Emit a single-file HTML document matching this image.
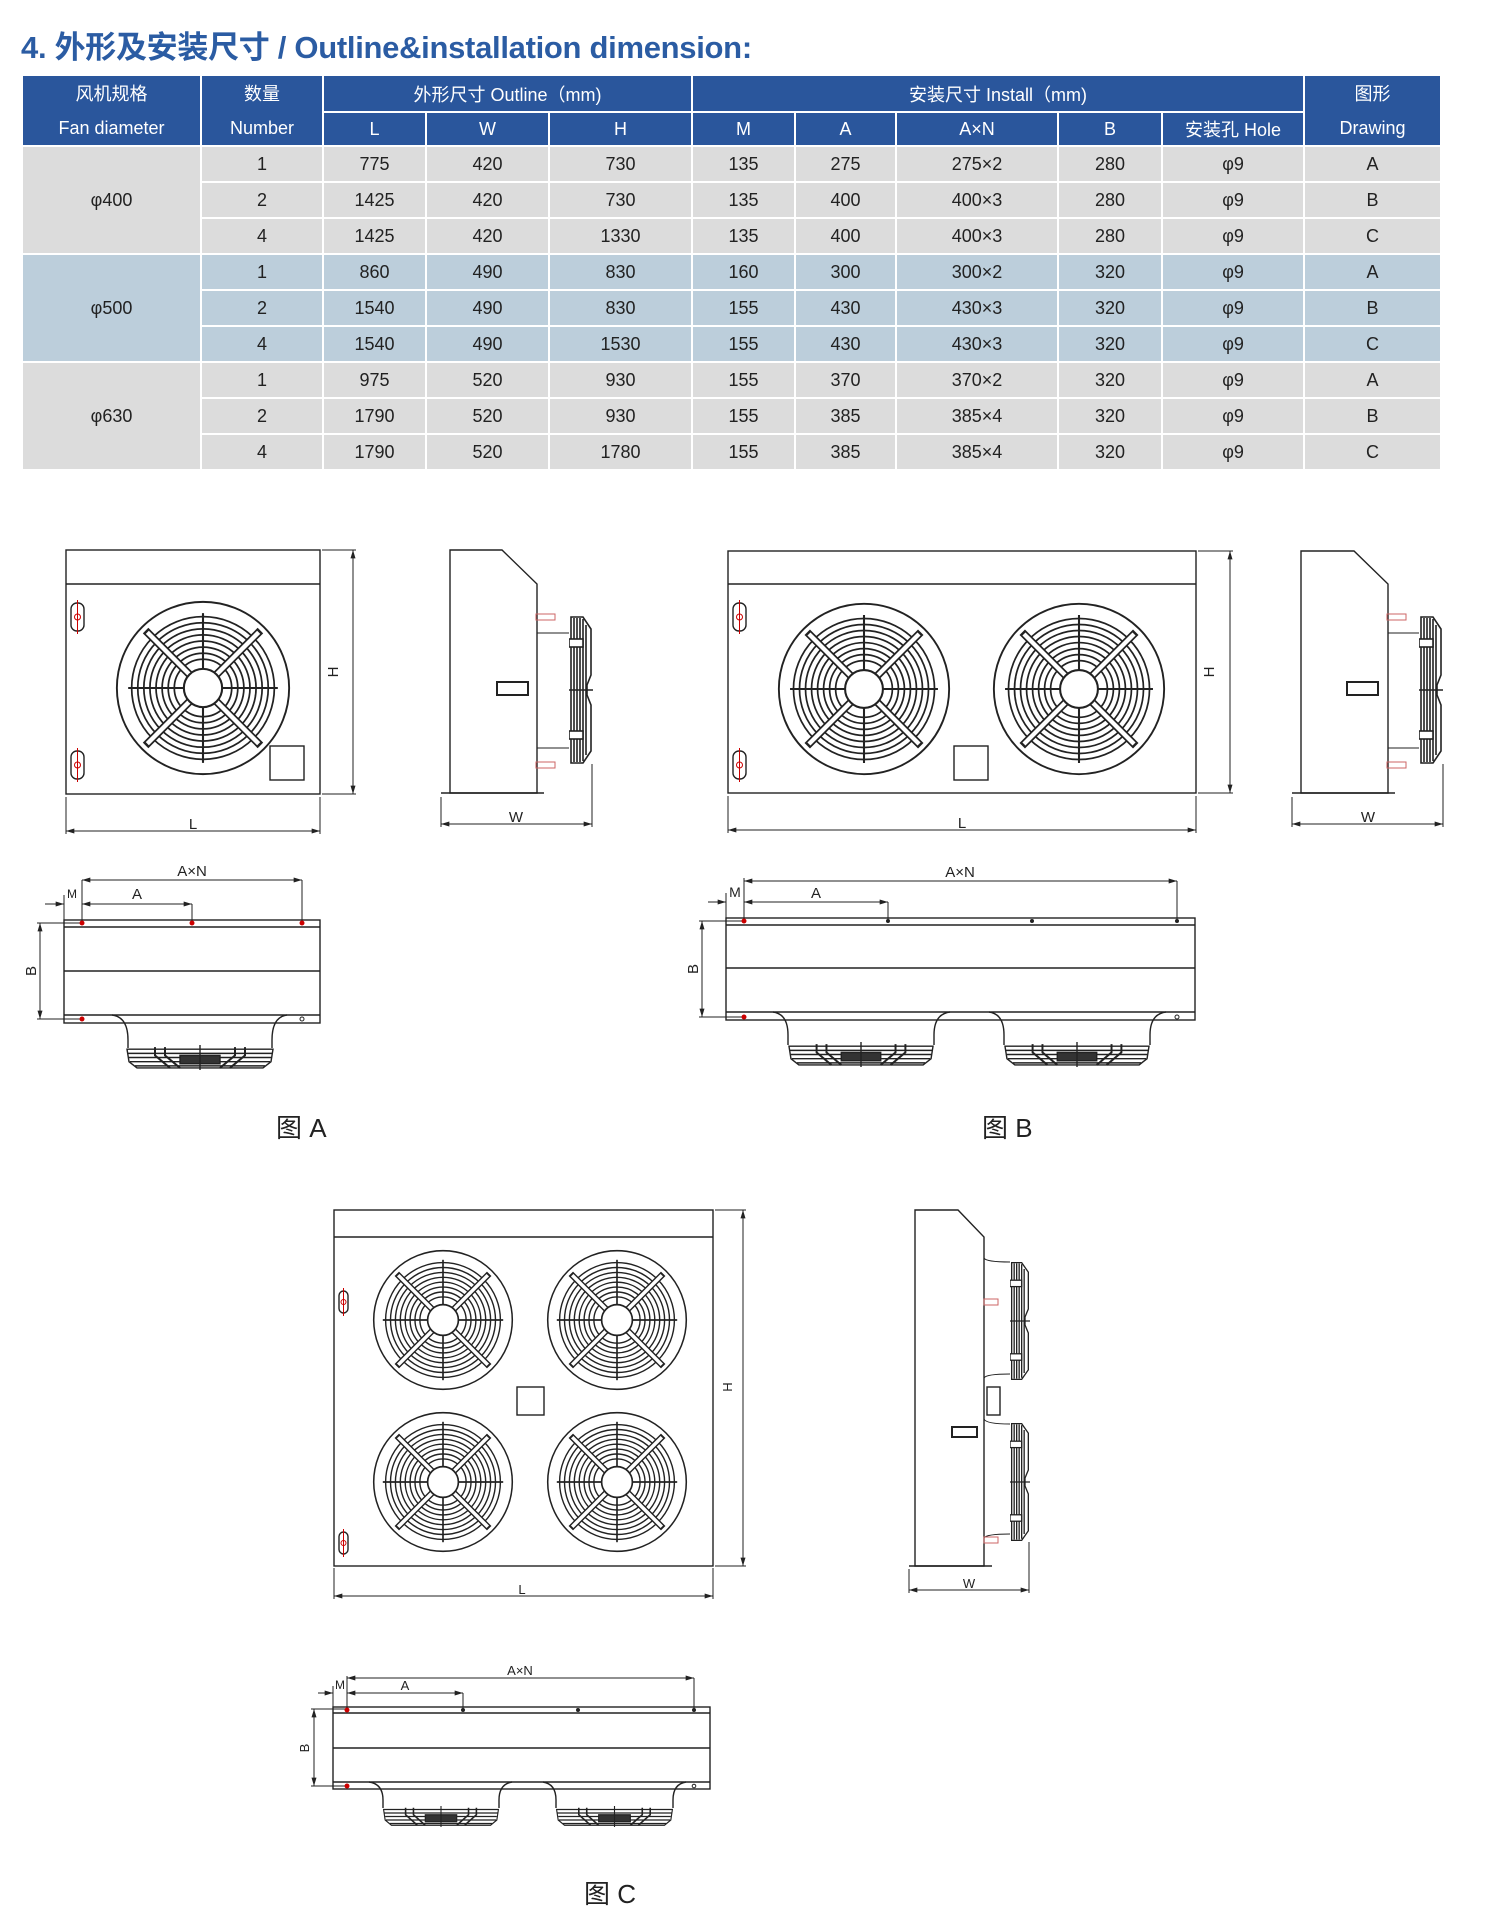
<!DOCTYPE html>
<html><head><meta charset="utf-8"><style>
body{margin:0;background:#fff;width:1487px;height:1931px;position:relative;overflow:hidden;font-family:"Liberation Sans","Noto Sans CJK SC",sans-serif}
h1{position:absolute;left:21px;top:22px;margin:0;font-size:31px;font-weight:bold;color:#2b5ca3;letter-spacing:-0.3px;white-space:nowrap}
table{position:absolute;left:21px;top:74px;border-collapse:collapse;table-layout:fixed;width:1419px;font-size:18px;color:#222}
td{border:2px solid #fff;text-align:center;padding:0;height:34px}
tr.h td{background:#2a569c;color:#fff}
tr.h1 td{height:35px}
tr.h2 td{height:32px}
.g td{background:#dcdcdc}.b td{background:#bccedb}
svg{position:absolute;left:0;top:0}
</style></head><body>
<h1>4. 外形及安装尺寸 / Outline&amp;installation dimension:</h1>
<table>
<colgroup><col style="width:179px"><col style="width:122px"><col style="width:103px"><col style="width:123px"><col style="width:143px"><col style="width:103px"><col style="width:101px"><col style="width:162px"><col style="width:104px"><col style="width:142px"><col style="width:137px"></colgroup>
<tr class="h h1"><td rowspan="2" style="line-height:34px">风机规格<br>Fan diameter</td><td rowspan="2" style="line-height:34px">数量<br>Number</td><td colspan="3">外形尺寸 Outline（mm)</td><td colspan="5">安装尺寸 Install（mm)</td><td rowspan="2" style="line-height:34px">图形<br>Drawing</td></tr>
<tr class="h h2"><td>L</td><td>W</td><td>H</td><td>M</td><td>A</td><td>A×N</td><td>B</td><td>安装孔 Hole</td></tr>
<tr class="g"><td rowspan="3">φ400</td><td>1</td><td>775</td><td>420</td><td>730</td><td>135</td><td>275</td><td>275×2</td><td>280</td><td>φ9</td><td>A</td></tr>
<tr class="g"><td>2</td><td>1425</td><td>420</td><td>730</td><td>135</td><td>400</td><td>400×3</td><td>280</td><td>φ9</td><td>B</td></tr>
<tr class="g"><td>4</td><td>1425</td><td>420</td><td>1330</td><td>135</td><td>400</td><td>400×3</td><td>280</td><td>φ9</td><td>C</td></tr>
<tr class="b"><td rowspan="3">φ500</td><td>1</td><td>860</td><td>490</td><td>830</td><td>160</td><td>300</td><td>300×2</td><td>320</td><td>φ9</td><td>A</td></tr>
<tr class="b"><td>2</td><td>1540</td><td>490</td><td>830</td><td>155</td><td>430</td><td>430×3</td><td>320</td><td>φ9</td><td>B</td></tr>
<tr class="b"><td>4</td><td>1540</td><td>490</td><td>1530</td><td>155</td><td>430</td><td>430×3</td><td>320</td><td>φ9</td><td>C</td></tr>
<tr class="g"><td rowspan="3">φ630</td><td>1</td><td>975</td><td>520</td><td>930</td><td>155</td><td>370</td><td>370×2</td><td>320</td><td>φ9</td><td>A</td></tr>
<tr class="g"><td>2</td><td>1790</td><td>520</td><td>930</td><td>155</td><td>385</td><td>385×4</td><td>320</td><td>φ9</td><td>B</td></tr>
<tr class="g"><td>4</td><td>1790</td><td>520</td><td>1780</td><td>155</td><td>385</td><td>385×4</td><td>320</td><td>φ9</td><td>C</td></tr>
</table>

<svg width="1487" height="1931" viewBox="0 0 1487 1931" font-family="Liberation Sans, sans-serif" fill="none" stroke="#222" stroke-width="1.4">
<defs>
<marker id="ar" viewBox="0 0 10 6" refX="10" refY="3" markerWidth="9" markerHeight="5" orient="auto-start-reverse"><path d="M0,0 L10,3 L0,6z" fill="#222" stroke="none"/></marker>
<symbol id="fan" viewBox="-100 -100 200 200" overflow="visible">
<g fill="none" stroke="#222">
<circle r="99" stroke-width="2.2"/>
<g stroke-width="2"><circle r="82"/><circle r="75"/><circle r="68"/><circle r="61"/><circle r="54"/><circle r="47"/><circle r="40"/><circle r="33"/></g>
<g stroke-width="2.4"><line x1="-86" y1="0" x2="86" y2="0"/><line x1="0" y1="-86" x2="0" y2="86"/></g>
<g stroke-width="9" stroke="#222"><line x1="-66" y1="-66" x2="66" y2="66"/><line x1="-66" y1="66" x2="66" y2="-66"/></g>
<g stroke-width="5" stroke="#fff"><line x1="-64" y1="-64" x2="64" y2="64"/><line x1="-64" y1="64" x2="64" y2="-64"/></g>
<circle r="22" fill="#fff" stroke-width="2.4"/>
</g></symbol>
<symbol id="sg" viewBox="0 0 24 150" preserveAspectRatio="none">
<g stroke="#222" fill="none" stroke-width="1.6">
<path d="M2,2 L14,2 L22,14 L22,60 L18,70 L18,80 L22,90 L22,136 L14,148 L2,148 Z" fill="#fff"/>
<line x1="5" y1="3" x2="5" y2="147"/><line x1="8" y1="3" x2="8" y2="147"/><line x1="11" y1="3" x2="11" y2="147"/><line x1="14" y1="4" x2="14" y2="146"/><line x1="17" y1="10" x2="17" y2="140"/>
<rect x="0" y="24" width="14" height="8" fill="#fff"/><rect x="0" y="116" width="14" height="8" fill="#fff"/>
<line x1="-4" y1="75" x2="28" y2="75"/>
</g></symbol>
<symbol id="bg" viewBox="0 0 150 24" preserveAspectRatio="none">
<g stroke="#222" fill="none" stroke-width="1.4">
<path d="M2,4 L148,4 L146,16 L138,22 L12,22 L4,16 Z" fill="#fff"/>
<line x1="3" y1="8" x2="147" y2="8"/><line x1="4" y1="12" x2="146" y2="12"/><line x1="5" y1="16" x2="145" y2="16"/><line x1="10" y1="20" x2="140" y2="20"/>
<path d="M30,2 L30,10 L45,22 M40,2 L40,10 L55,22 M110,2 L110,10 L95,22 M120,2 L120,10 L105,22" stroke-width="2"/>
<rect x="55" y="10" width="40" height="8" fill="#333"/>
<line x1="75" y1="0" x2="75" y2="26"/>
</g></symbol>
</defs>

<!-- ===== Figure A front ===== -->
<rect x="66" y="550" width="254" height="244"/>
<line x1="66" y1="584" x2="320" y2="584"/>
<use href="#fan" x="116" y="601" width="174" height="174"/>
<rect x="270" y="746" width="34" height="34"/>
<rect x="71" y="603" width="13" height="28" rx="6"/><rect x="71" y="751" width="13" height="28" rx="6"/>
<g stroke="#c00" stroke-width="1"><circle cx="77.5" cy="617" r="3"/><line x1="77.5" y1="600" x2="77.5" y2="634"/><circle cx="77.5" cy="765" r="3"/><line x1="77.5" y1="748" x2="77.5" y2="782"/></g>
<line x1="322" y1="550" x2="356" y2="550" stroke-width="1"/><line x1="322" y1="794" x2="356" y2="794" stroke-width="1"/>
<line x1="353" y1="550" x2="353" y2="794" stroke-width="1" marker-start="url(#ar)" marker-end="url(#ar)"/>
<line x1="66" y1="797" x2="66" y2="834" stroke-width="1"/><line x1="320" y1="797" x2="320" y2="834" stroke-width="1"/>
<line x1="66" y1="831" x2="320" y2="831" stroke-width="1" marker-start="url(#ar)" marker-end="url(#ar)"/>
<!-- side A -->
<path d="M450,550 L502,550 L537,584 L537,793 L450,793 Z"/>
<line x1="441" y1="793" x2="544" y2="793"/>
<path d="M537,633 L569,633 M537,748 L569,748" stroke-width="1"/>
<rect x="536" y="614" width="19" height="6" stroke="#c66" stroke-width="1"/><rect x="536" y="762" width="19" height="6" stroke="#c66" stroke-width="1"/>
<use href="#sg" x="569" y="615" width="24" height="150"/>
<rect x="497" y="682" width="31" height="13" stroke-width="2"/>
<line x1="441" y1="797" x2="441" y2="827" stroke-width="1"/><line x1="592" y1="764" x2="592" y2="827" stroke-width="1"/>
<line x1="441" y1="824" x2="592" y2="824" stroke-width="1" marker-start="url(#ar)" marker-end="url(#ar)"/>
<!-- bottom A -->
<rect x="64" y="920" width="256" height="103"/>
<path d="M64,927 H320 M64,971 H320 M64,1015 H320"/>
<path d="M112,1015 Q128,1017 128,1040 L128,1048 M287,1015 Q272,1017 272,1040 L272,1048"/>
<use href="#bg" x="125" y="1045" width="150" height="25"/>
<g stroke-width="1">
<line x1="82" y1="880" x2="302" y2="880" marker-start="url(#ar)" marker-end="url(#ar)"/>
<line x1="82" y1="880" x2="82" y2="922"/><line x1="302" y1="880" x2="302" y2="922"/>
<line x1="82" y1="904" x2="192" y2="904" marker-start="url(#ar)" marker-end="url(#ar)"/><line x1="192" y1="904" x2="192" y2="922"/>
<line x1="45" y1="904" x2="64" y2="904" marker-end="url(#ar)"/><line x1="64" y1="895" x2="64" y2="920"/>
<line x1="37" y1="923" x2="82" y2="923"/><line x1="37" y1="1019" x2="82" y2="1019"/>
<line x1="40" y1="923" x2="40" y2="1019" marker-start="url(#ar)" marker-end="url(#ar)"/>
</g>
<g fill="#c00" stroke="none"><circle cx="82" cy="923" r="2.5"/><circle cx="192" cy="923" r="2.5"/><circle cx="302" cy="923" r="2.5"/><circle cx="82" cy="1019" r="2.5"/></g>
<circle cx="302" cy="1019" r="2" stroke-width="1"/>

<!-- ===== Figure B front ===== -->
<rect x="728" y="551" width="468" height="242"/>
<line x1="728" y1="584" x2="1196" y2="584"/>
<use href="#fan" x="778" y="603" width="172" height="172"/>
<use href="#fan" x="993" y="603" width="172" height="172"/>
<rect x="954" y="746" width="34" height="34"/>
<rect x="733" y="603" width="13" height="28" rx="6"/><rect x="733" y="751" width="13" height="28" rx="6"/>
<g stroke="#c00" stroke-width="1"><circle cx="739.5" cy="617" r="3"/><line x1="739.5" y1="600" x2="739.5" y2="634"/><circle cx="739.5" cy="765" r="3"/><line x1="739.5" y1="748" x2="739.5" y2="782"/></g>
<g stroke-width="1">
<line x1="1198" y1="551" x2="1233" y2="551"/><line x1="1198" y1="793" x2="1233" y2="793"/>
<line x1="1230" y1="551" x2="1230" y2="793" marker-start="url(#ar)" marker-end="url(#ar)"/>
<line x1="728" y1="796" x2="728" y2="833"/><line x1="1196" y1="796" x2="1196" y2="833"/>
<line x1="728" y1="830" x2="1196" y2="830" marker-start="url(#ar)" marker-end="url(#ar)"/>
</g>
<!-- side B -->
<path d="M1301,551 L1354,551 L1388,584 L1388,793 L1301,793 Z"/>
<line x1="1292" y1="793" x2="1395" y2="793"/>
<path d="M1388,633 L1419,633 M1388,748 L1419,748" stroke-width="1"/>
<rect x="1387" y="614" width="19" height="6" stroke="#c66" stroke-width="1"/><rect x="1387" y="762" width="19" height="6" stroke="#c66" stroke-width="1"/>
<use href="#sg" x="1419" y="615" width="24" height="150"/>
<rect x="1347" y="682" width="31" height="13" stroke-width="2"/>
<g stroke-width="1">
<line x1="1292" y1="797" x2="1292" y2="827"/><line x1="1443" y1="764" x2="1443" y2="827"/>
<line x1="1292" y1="824" x2="1443" y2="824" marker-start="url(#ar)" marker-end="url(#ar)"/>
</g>
<!-- bottom B -->
<rect x="726" y="918" width="469" height="102"/>
<path d="M726,925 H1195 M726,968 H1195 M726,1012 H1195"/>
<path d="M773,1012 Q788,1014 788,1035 L788,1045 M950,1012 Q934,1014 934,1035 L934,1045 M989,1012 Q1004,1014 1004,1035 L1004,1045 M1166,1012 Q1150,1014 1150,1035 L1150,1045"/>
<use href="#bg" x="787" y="1042" width="148" height="25"/>
<use href="#bg" x="1003" y="1042" width="148" height="25"/>
<g stroke-width="1">
<line x1="744" y1="881" x2="1177" y2="881" marker-start="url(#ar)" marker-end="url(#ar)"/>
<line x1="744" y1="878" x2="744" y2="920"/><line x1="1177" y1="881" x2="1177" y2="920"/>
<line x1="744" y1="902" x2="888" y2="902" marker-start="url(#ar)" marker-end="url(#ar)"/><line x1="888" y1="902" x2="888" y2="920"/>
<line x1="708" y1="902" x2="726" y2="902" marker-end="url(#ar)"/><line x1="726" y1="893" x2="726" y2="918"/>
<line x1="699" y1="921" x2="744" y2="921"/><line x1="699" y1="1017" x2="744" y2="1017"/>
<line x1="702" y1="921" x2="702" y2="1017" marker-start="url(#ar)" marker-end="url(#ar)"/>
</g>
<g fill="#222" stroke="none"><circle cx="888" cy="921" r="2"/><circle cx="1032" cy="921" r="2"/><circle cx="1177" cy="921" r="2"/></g>
<g fill="#c00" stroke="none"><circle cx="744" cy="921" r="2.5"/><circle cx="744" cy="1017" r="2.5"/></g>
<circle cx="1177" cy="1017" r="2" stroke-width="1"/>

<!-- ===== Figure C front ===== -->
<rect x="334" y="1210" width="379" height="356"/>
<line x1="334" y1="1237" x2="713" y2="1237"/>
<use href="#fan" x="373" y="1250" width="140" height="140"/>
<use href="#fan" x="547" y="1250" width="140" height="140"/>
<use href="#fan" x="373" y="1412" width="140" height="140"/>
<use href="#fan" x="547" y="1412" width="140" height="140"/>
<rect x="517" y="1387" width="27" height="28"/>
<rect x="339" y="1291" width="9" height="22" rx="4.5"/><rect x="339" y="1532" width="9" height="22" rx="4.5"/>
<g stroke="#c00" stroke-width="1"><circle cx="343.5" cy="1302" r="2.5"/><line x1="343.5" y1="1288" x2="343.5" y2="1316"/><circle cx="343.5" cy="1543" r="2.5"/><line x1="343.5" y1="1529" x2="343.5" y2="1557"/></g>
<g stroke-width="1">
<line x1="715" y1="1210" x2="746" y2="1210"/><line x1="715" y1="1566" x2="746" y2="1566"/>
<line x1="743" y1="1210" x2="743" y2="1566" marker-start="url(#ar)" marker-end="url(#ar)"/>
<line x1="334" y1="1568" x2="334" y2="1599"/><line x1="713" y1="1568" x2="713" y2="1599"/>
<line x1="334" y1="1596" x2="713" y2="1596" marker-start="url(#ar)" marker-end="url(#ar)"/>
</g>
<!-- side C -->
<path d="M915,1210 L958,1210 L984,1237 L984,1566 L915,1566 Z"/>
<line x1="909" y1="1566" x2="992" y2="1566"/>
<path d="M984,1258 Q986,1262 1010,1262 M984,1378 Q986,1374 1010,1374 M984,1419 Q986,1424 1010,1424 M984,1538 Q986,1534 1010,1534" stroke-width="1"/>
<rect x="984" y="1299" width="14" height="6" stroke="#c66" stroke-width="1"/><rect x="984" y="1537" width="14" height="6" stroke="#c66" stroke-width="1"/>
<use href="#sg" x="1010" y="1261" width="20" height="120"/>
<use href="#sg" x="1010" y="1422" width="20" height="120"/>
<rect x="987" y="1387" width="13" height="28"/>
<rect x="952" y="1427" width="25" height="10" stroke-width="2"/>
<g stroke-width="1">
<line x1="909" y1="1569" x2="909" y2="1593"/><line x1="1029" y1="1542" x2="1029" y2="1593"/>
<line x1="909" y1="1590" x2="1029" y2="1590" marker-start="url(#ar)" marker-end="url(#ar)"/>
</g>
<!-- bottom C -->
<rect x="333" y="1707" width="377" height="82"/>
<path d="M333,1713 H710 M333,1748 H710 M333,1782 H710"/>
<path d="M369,1782 Q383,1784 383,1800 L383,1808 M512,1782 Q499,1784 499,1800 L499,1808 M543,1782 Q556,1784 556,1800 L556,1808 M686,1782 Q673,1784 673,1800 L673,1808"/>
<use href="#bg" x="382" y="1806" width="118" height="21"/>
<use href="#bg" x="555" y="1806" width="119" height="21"/>
<g stroke-width="1">
<line x1="347" y1="1678" x2="694" y2="1678" marker-start="url(#ar)" marker-end="url(#ar)"/>
<line x1="347" y1="1676" x2="347" y2="1709"/><line x1="694" y1="1678" x2="694" y2="1709"/>
<line x1="347" y1="1693" x2="463" y2="1693" marker-start="url(#ar)" marker-end="url(#ar)"/><line x1="463" y1="1693" x2="463" y2="1709"/>
<line x1="318" y1="1693" x2="333" y2="1693" marker-end="url(#ar)"/><line x1="333" y1="1686" x2="333" y2="1707"/>
<line x1="311" y1="1709" x2="347" y2="1709"/><line x1="311" y1="1786" x2="347" y2="1786"/>
<line x1="314" y1="1709" x2="314" y2="1786" marker-start="url(#ar)" marker-end="url(#ar)"/>
</g>
<g fill="#222" stroke="none"><circle cx="463" cy="1710" r="2"/><circle cx="578" cy="1710" r="2"/><circle cx="694" cy="1710" r="2"/></g>
<g fill="#c00" stroke="none"><circle cx="347" cy="1710" r="2.5"/><circle cx="347" cy="1786" r="2.5"/></g>
<circle cx="694" cy="1786" r="1.8" stroke-width="1"/>

<!-- dimension labels -->
<g fill="#222" stroke="none" font-size="15" text-anchor="middle">
<text x="193" y="829">L</text>
<text transform="translate(338,672) rotate(-90)">H</text>
<text x="516" y="822">W</text>
<text x="192" y="876">A×N</text>
<text x="137" y="899">A</text>
<text x="72" y="898" font-size="12">M</text>
<text transform="translate(36,971) rotate(-90)">B</text>

<text x="962" y="828">L</text>
<text transform="translate(1214,672) rotate(-90)">H</text>
<text x="1368" y="822">W</text>
<text x="960" y="877">A×N</text>
<text x="816" y="898">A</text>
<text x="735" y="897" font-size="14">M</text>
<text transform="translate(698,969) rotate(-90)">B</text>

<text x="522" y="1594" font-size="13">L</text>
<text transform="translate(732,1387) rotate(-90)" font-size="13">H</text>
<text x="969" y="1588" font-size="13">W</text>
<text x="520" y="1675" font-size="13">A×N</text>
<text x="405" y="1690" font-size="13">A</text>
<text x="340" y="1689" font-size="12">M</text>
<text transform="translate(309,1748) rotate(-90)" font-size="13">B</text>
</g>
<g fill="#222" stroke="none" font-size="26" font-family="Liberation Sans, Noto Sans CJK SC, sans-serif">
<text x="276" y="1137">图 A</text>
<text x="982" y="1137">图 B</text>
<text x="584" y="1903">图 C</text>
</g>
</svg>
</body></html>
